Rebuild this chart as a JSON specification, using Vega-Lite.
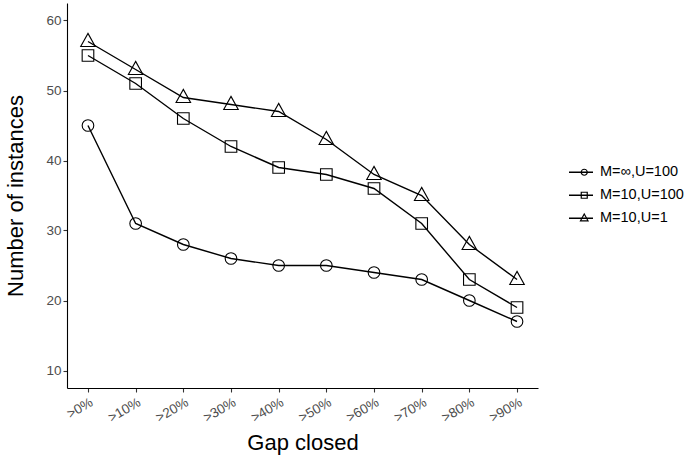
{
  "$schema": "https://vega.github.io/schema/vega-lite/v6.json",
  "width": 471,
  "height": 385,
  "autosize": {"type": "none"},
  "padding": {"left": 67, "top": 3, "right": 154, "bottom": 71},
  "background": "white",
  "config": {
    "view": {"stroke": null},
    "font": "Liberation Sans",
    "axis": {
      "grid": false,
      "domainColor": "black",
      "domainWidth": 1.1,
      "tickColor": "#333333",
      "tickWidth": 1.1,
      "tickSize": 4,
      "labelColor": "#4d4d4d",
      "labelFontSize": 13.5,
      "titleColor": "black",
      "titleFontSize": 22,
      "titleFontWeight": "normal"
    }
  },
  "data": {
    "values": [
      {"gap": ">0%", "series": "M=∞,U=100", "n": 45},
      {"gap": ">10%", "series": "M=∞,U=100", "n": 31},
      {"gap": ">20%", "series": "M=∞,U=100", "n": 28},
      {"gap": ">30%", "series": "M=∞,U=100", "n": 26},
      {"gap": ">40%", "series": "M=∞,U=100", "n": 25},
      {"gap": ">50%", "series": "M=∞,U=100", "n": 25},
      {"gap": ">60%", "series": "M=∞,U=100", "n": 24},
      {"gap": ">70%", "series": "M=∞,U=100", "n": 23},
      {"gap": ">80%", "series": "M=∞,U=100", "n": 20},
      {"gap": ">90%", "series": "M=∞,U=100", "n": 17},
      {"gap": ">0%", "series": "M=10,U=100", "n": 55},
      {"gap": ">10%", "series": "M=10,U=100", "n": 51},
      {"gap": ">20%", "series": "M=10,U=100", "n": 46},
      {"gap": ">30%", "series": "M=10,U=100", "n": 42},
      {"gap": ">40%", "series": "M=10,U=100", "n": 39},
      {"gap": ">50%", "series": "M=10,U=100", "n": 38},
      {"gap": ">60%", "series": "M=10,U=100", "n": 36},
      {"gap": ">70%", "series": "M=10,U=100", "n": 31},
      {"gap": ">80%", "series": "M=10,U=100", "n": 23},
      {"gap": ">90%", "series": "M=10,U=100", "n": 19},
      {"gap": ">0%", "series": "M=10,U=1", "n": 57},
      {"gap": ">10%", "series": "M=10,U=1", "n": 53},
      {"gap": ">20%", "series": "M=10,U=1", "n": 49},
      {"gap": ">30%", "series": "M=10,U=1", "n": 48},
      {"gap": ">40%", "series": "M=10,U=1", "n": 47},
      {"gap": ">50%", "series": "M=10,U=1", "n": 43},
      {"gap": ">60%", "series": "M=10,U=1", "n": 38},
      {"gap": ">70%", "series": "M=10,U=1", "n": 35},
      {"gap": ">80%", "series": "M=10,U=1", "n": 28},
      {"gap": ">90%", "series": "M=10,U=1", "n": 23}
    ]
  },
  "encoding": {
    "x": {
      "field": "gap",
      "type": "ordinal",
      "sort": [">0%", ">10%", ">20%", ">30%", ">40%", ">50%", ">60%", ">70%", ">80%", ">90%"],
      "scale": {"type": "point", "padding": 0.44},
      "axis": {"title": "Gap closed", "labelAngle": -30, "labelAlign": "right", "labelBaseline": "top", "labelPadding": 3, "titlePadding": 8, "labelFontSize": 13.5}
    },
    "y": {
      "field": "n",
      "type": "quantitative",
      "scale": {"domain": [7.5, 62.5], "nice": false, "zero": false},
      "axis": {"title": "Number of instances", "values": [10, 20, 30, 40, 50, 60], "titlePadding": 18, "labelFontSize": 13.5}
    }
  },
  "layer": [
    {
      "mark": {"type": "line", "strokeWidth": 1.4},
      "encoding": {
        "color": {
          "field": "series",
          "type": "nominal",
          "scale": {"domain": ["M=∞,U=100", "M=10,U=100", "M=10,U=1"], "range": ["black", "black", "black"]},
          "legend": {
            "title": null,
            "orient": "none",
            "legendX": 501,
            "legendY": 158,
            "symbolType": "stroke",
            "symbolSize": 576,
            "symbolStrokeWidth": 1.5,
            "labelFontSize": 14.5,
            "labelColor": "black",
            "labelOffset": 6,
            "clipHeight": 22.5,
            "rowPadding": 0
          }
        }
      }
    },
    {
      "mark": {"type": "point", "filled": false, "color": "black", "strokeWidth": 1.1, "opacity": 1, "size": 135},
      "encoding": {
        "shape": {
          "field": "series",
          "type": "nominal",
          "sort": ["M=∞,U=100", "M=10,U=100", "M=10,U=1"],
          "scale": {"range": ["circle", "square", "M0,-1.4L1.25,0.85L-1.25,0.85Z"]},
          "legend": {
            "title": null,
            "orient": "none",
            "legendX": 510,
            "legendY": 158,
            "labelFontSize": 14.5,
            "labelExpr": "''",
            "symbolStrokeWidth": 1.2,
            "symbolStrokeColor": "black",
            "symbolFillColor": "white",
            "symbolSize": 36,
            "clipHeight": 22.5,
            "rowPadding": 0
          }
        }
      }
    }
  ]
}
